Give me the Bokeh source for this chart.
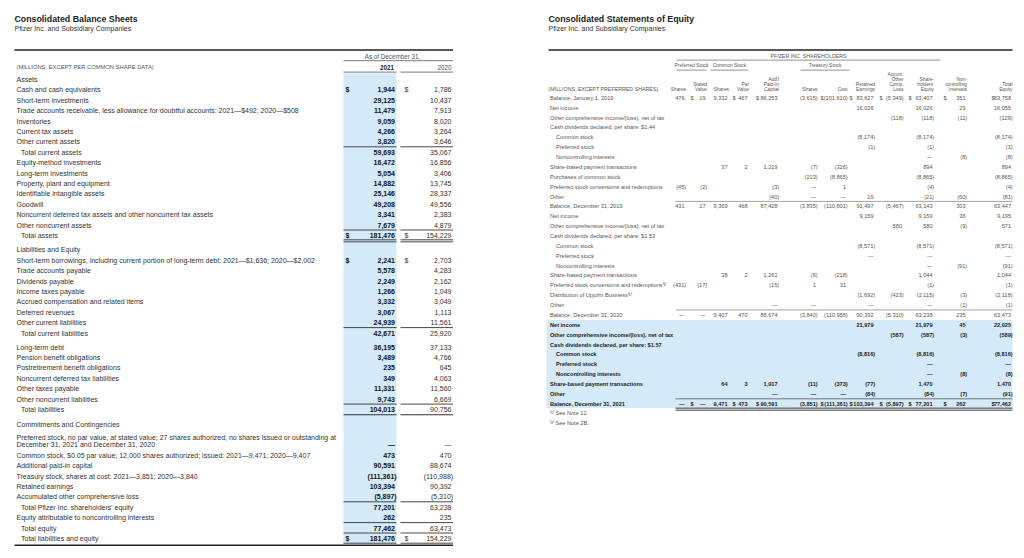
from bokeh.plotting import figure
from bokeh.models import Range1d
from bokeh.core.properties import value
from bokeh.embed import file_html
from bokeh.resources import INLINE

E, D = "", "—"

# ---------------- Consolidated Balance Sheets (data) ----------------
bs_title = "Consolidated Balance Sheets"
bs_subtitle = "Pfizer Inc. and Subsidiary Companies"
bs_unit = "(MILLIONS, EXCEPT PER COMMON SHARE DATA)"
bs_period = "As of December 31,"
bs_years = ["2021", "2020"]
bs_labels = [
    "Assets",
    "Cash and cash equivalents",
    "Short-term investments",
    "Trade accounts receivable, less allowance for doubtful accounts: 2021—$492; 2020—$508",
    "Inventories",
    "Current tax assets",
    "Other current assets",
    "Total current assets",
    "Equity-method investments",
    "Long-term investments",
    "Property, plant and equipment",
    "Identifiable intangible assets",
    "Goodwill",
    "Noncurrent deferred tax assets and other noncurrent tax assets",
    "Other noncurrent assets",
    "Total assets",
    "Liabilities and Equity",
    "Short-term borrowings, including current portion of long-term debt: 2021—$1,636; 2020—$2,002",
    "Trade accounts payable",
    "Dividends payable",
    "Income taxes payable",
    "Accrued compensation and related items",
    "Deferred revenues",
    "Other current liabilities",
    "Total current liabilities",
    "Long-term debt",
    "Pension benefit obligations",
    "Postretirement benefit obligations",
    "Noncurrent deferred tax liabilities",
    "Other taxes payable",
    "Other noncurrent liabilities",
    "Total liabilities",
    "Commitments and Contingencies",
    "Preferred stock, no par value, at stated value; 27 shares authorized; no shares issued or outstanding at\nDecember 31, 2021 and December 31, 2020",
    "Common stock, $0.05 par value; 12,000 shares authorized; issued: 2021—9,471; 2020—9,407",
    "Additional paid-in capital",
    "Treasury stock, shares at cost: 2021—3,851; 2020—3,840",
    "Retained earnings",
    "Accumulated other comprehensive loss",
    "Total Pfizer Inc. shareholders' equity",
    "Equity attributable to noncontrolling interests",
    "Total equity",
    "Total liabilities and equity",
]
bs_2021 = [E, "1,944", "29,125", "11,479", "9,059", "4,266", "3,820", "59,693", "16,472", "5,054",
           "14,882", "25,146", "49,208", "3,341", "7,679", "181,476", E, "2,241", "5,578", "2,249",
           "1,266", "3,332", "3,067", "24,939", "42,671", "36,195", "3,489", "235", "349", "11,331",
           "9,743", "104,013", E, D, "473", "90,591", "(111,361)", "103,394", "(5,897)", "77,201",
           "262", "77,462", "181,476"]
bs_2020 = [E, "1,786", "10,437", "7,913", "8,020", "3,264", "3,646", "35,067", "16,856", "3,406",
           "13,745", "28,337", "49,556", "2,383", "4,879", "154,229", E, "2,703", "4,283", "2,162",
           "1,049", "3,049", "1,113", "11,561", "25,920", "37,133", "4,766", "645", "4,063", "11,560",
           "6,669", "90,756", E, D, "470", "88,674", "(110,988)", "90,392", "(5,310)", "63,238",
           "235", "63,473", "154,229"]

# ---------------- Consolidated Statements of Equity (data) ----------------
eq_title = "Consolidated Statements of Equity"
eq_subtitle = "Pfizer Inc. and Subsidiary Companies"
eq_unit = "(MILLIONS, EXCEPT PREFERRED SHARES)"
eq_group = "PFIZER INC. SHAREHOLDERS"
eq_subgroups = ["Preferred Stock", "Common Stock", "Treasury Stock"]
eq_col_heads = ["Shares", "Stated\nValue", "Shares", "Par\nValue", "Add'l\nPaid-In\nCapital",
                "Shares", "Cost", "Retained\nEarnings", "Accum.\nOther\nComp.\nLoss",
                "Share-\nholders'\nEquity", "Non-\ncontrolling\nInterests", "Total\nEquity"]
eq_labels = [
    "Balance, January 1, 2019",
    "Net income",
    "Other comprehensive income/(loss), net of tax",
    "Cash dividends declared, per share: $1.44",
    "Common stock",
    "Preferred stock",
    "Noncontrolling interests",
    "Share-based payment transactions",
    "Purchases of common stock",
    "Preferred stock conversions and redemptions",
    "Other",
    "Balance, December 31, 2019",
    "Net income",
    "Other comprehensive income/(loss), net of tax",
    "Cash dividends declared, per share: $1.53",
    "Common stock",
    "Preferred stock",
    "Noncontrolling interests",
    "Share-based payment transactions",
    "Preferred stock conversions and redemptions⁽¹⁾",
    "Distribution of Upjohn Business⁽²⁾",
    "Other",
    "Balance, December 31, 2020",
    "Net income",
    "Other comprehensive income/(loss), net of tax",
    "Cash dividends declared, per share: $1.57",
    "Common stock",
    "Preferred stock",
    "Noncontrolling interests",
    "Share-based payment transactions",
    "Other",
    "Balance, December 31, 2021",
]
pref_shares = ["476", E, E, E, E, E, E, E, E, "(45)", E,
               "431", E, E, E, E, E, E, E, "(431)", E, E,
               D, E, E, E, E, E, E, E, E, D]
pref_value = ["19", E, E, E, E, E, E, E, E, "(2)", E,
              "17", E, E, E, E, E, E, E, "(17)", E, E,
              D, E, E, E, E, E, E, E, E, D]
com_shares = ["9,332", E, E, E, E, E, E, "37", E, E, E,
              "9,369", E, E, E, E, E, E, "38", E, E, E,
              "9,407", E, E, E, E, E, E, "64", E, "9,471"]
par_value = ["467", E, E, E, E, E, E, "2", E, E, E,
             "468", E, E, E, E, E, E, "2", E, E, E,
             "470", E, E, E, E, E, E, "3", E, "473"]
apic = ["86,253", E, E, E, E, E, E, "1,219", E, "(3)", "(40)",
        "87,428", E, E, E, E, E, E, "1,261", "(15)", E, D,
        "88,674", E, E, E, E, E, E, "1,917", D, "90,591"]
tr_shares = ["(3,615)", E, E, E, E, E, E, "(7)", "(213)", D, D,
             "(3,835)", E, E, E, E, E, E, "(6)", "1", E, D,
             "(3,840)", E, E, E, E, E, E, "(11)", D, "(3,851)"]
tr_cost = ["(101,610)", E, E, E, E, E, E, "(326)", "(8,865)", "1", D,
           "(110,801)", E, E, E, E, E, E, "(218)", "31", E, E,
           "(110,988)", E, E, E, E, E, E, "(373)", D, "(111,361)"]
retained = ["83,627", "16,026", E, E, "(8,174)", "(1)", E, E, E, E, "19",
            "91,497", "9,159", E, E, "(8,571)", D, E, E, E, "(1,692)", D,
            "90,392", "21,979", E, E, "(8,816)", E, E, "(77)", "(84)", "103,394"]
aoci = ["(5,349)", E, "(118)", E, E, E, E, E, E, E, E,
        "(5,467)", E, "580", E, E, E, E, E, E, "(423)", E,
        "(5,310)", E, "(587)", E, E, E, E, E, E, "(5,897)"]
pfe_equity = ["63,407", "16,026", "(118)", E, "(8,174)", "(1)", D, "894", "(8,865)", "(4)", "(21)",
              "63,143", "9,159", "580", E, "(8,571)", D, D, "1,044", "(1)", "(2,115)", D,
              "63,238", "21,979", "(587)", E, "(8,816)", D, D, "1,470", "(84)", "77,201"]
nci = ["351", "29", "(11)", E, E, E, "(8)", E, E, E, "(60)",
       "303", "36", "(9)", E, E, E, "(91)", E, E, "(3)", "(1)",
       "235", "45", "(3)", E, E, E, "(8)", E, "(7)", "262"]
total_equity = ["63,758", "16,055", "(129)", E, "(8,174)", "(1)", "(8)", "894", "(8,865)", "(4)", "(81)",
                "63,447", "9,195", "571", E, "(8,571)", D, "(91)", "1,044", "(1)", "(2,118)", "(1)",
                "63,473", "22,025", "(589)", E, "(8,816)", D, "(8)", "1,470", "(91)", "77,462"]
eq_notes = ["⁽¹⁾ See Note 12.", "⁽²⁾ See Note 2B."]

# ---------------- layout / style ----------------
FONT = value("Liberation Sans")
BLUE = "#d5eaf8"
INK = "#222222"
LAB = "#333333"
GREY = "#555555"

BS_GAP = {16: 4.0, 25: 3.7, 32: 4.6, 33: 2.3}
BS_INDENT = {7, 15, 24, 31, 39, 41, 42}
BS_DOLLAR = {1, 15, 17, 42}
BS_RULE_ABOVE = {7, 15, 24, 31, 39, 41, 42}

EQ_INDENT = {4, 5, 6, 15, 16, 17, 26, 27, 28}
EQ_BOLD_FROM = 23
EQ_DOLLAR_ROWS = {0, 31}
EQ_RULE_BELOW = {10, 21, 30}

W, H = 1016, 550
p = figure(width=W, height=H, x_range=Range1d(0, W), y_range=Range1d(H, 0),
           output_backend="svg", toolbar_location=None, x_axis_type=None, y_axis_type=None,
           min_border=0)
p.outline_line_color = None
p.background_fill_color = "white"
p.border_fill_color = "white"


def texts(xs, ys, ts, size, align="left", bold=False, color=LAB):
    xs, ys, ts = list(xs), list(ys), list(ts)
    if not ts:
        return
    p.text(x=xs, y=ys, text=ts, text_font=FONT, text_font_size=f"{size}px",
           text_font_style=("bold" if bold else "normal"), text_color=color,
           text_align=align, text_baseline="middle")


segs = {}


def hline(x0, x1, y, color=INK, width=1.0):
    segs.setdefault((color, width), []).append((x0, x1, y))


def num_x(r, v):
    return r + 1.6 if v.endswith(")") else r


# ======================= LEFT: balance sheet =======================
LX, LIND = 16, 20.5
C21, C20 = (343, 396), (400, 452.5)
R21, R20 = 394.5, 451
S21, S20 = 345, 404
ROW = 10.4

p.quad(left=[C21[0]], right=[C21[1]], top=[73], bottom=[543.3], fill_color=BLUE, line_color=None)

texts([14], [18.3], [bs_title], 8.8, bold=True, color=INK)
texts([14], [27.5], [bs_subtitle], 7, color=LAB)
hline(14, C20[1], 49.5, INK, 1.5)
texts([392], [56], [bs_period], 6.3, align="center", color=GREY)
hline(C21[0], C20[1], 60.2, "#555555", 0.8)
texts([LX], [66.5], [bs_unit], 5.8, color=GREY)
texts([R21 - 1], [66.5], [bs_years[0]], 6.3, align="right", bold=True, color=INK)
texts([R20], [66.5], [bs_years[1]], 6.3, align="right", color=GREY)
hline(C21[0], C21[1], 71.6, "#555555", 0.8)
hline(C20[0], C20[1], 71.6, "#555555", 0.8)

rows_y = []
lx, ly, lt = [], [], []
y = 78.9
for i, lab in enumerate(bs_labels):
    if i:
        y += ROW + BS_GAP.get(i, 0)
    parts = lab.split("\n")
    first = y
    y = first + 7.6 * (len(parts) - 1)
    rows_y.append(y)
    for j, part in enumerate(parts):
        lx.append(LIND if i in BS_INDENT else LX)
        ly.append(first + 7.6 * j)
        lt.append(part)
texts(lx, ly, lt, 7, color=LAB)

texts([num_x(R21, v) for v in bs_2021 if v], [rows_y[i] for i, v in enumerate(bs_2021) if v],
      [v for v in bs_2021 if v], 7, align="right", bold=True, color="#111111")
texts([num_x(R20, v) for v in bs_2020 if v], [rows_y[i] for i, v in enumerate(bs_2020) if v],
      [v for v in bs_2020 if v], 7, align="right", color=LAB)
dol = sorted(BS_DOLLAR)
texts([S21] * len(dol), [rows_y[i] for i in dol], ["$"] * len(dol), 7, bold=True, color="#111111")
texts([S20] * len(dol), [rows_y[i] for i in dol], ["$"] * len(dol), 7, color=LAB)

for i in BS_RULE_ABOVE:
    yy = (rows_y[i - 1] + rows_y[i]) / 2 - 0.2
    hline(C21[0], C21[1], yy, "#333333", 0.9)
    hline(C20[0], C20[1], yy, "#333333", 0.9)
# double rule below total assets
for dy in (4.4, 6.4):
    hline(C21[0], C21[1], rows_y[15] + dy, "#333333", 0.9)
    hline(C20[0], C20[1], rows_y[15] + dy, "#333333", 0.9)
# rule below total liabilities
hline(C21[0], C21[1], rows_y[31] + 5.2, "#333333", 1.1)
hline(C20[0], C20[1], rows_y[31] + 5.2, "#333333", 1.1)
# closing rules
last = rows_y[-1]
hline(C21[0], C21[1], last + 4.8, "#333333", 0.9)
hline(C20[0], C20[1], last + 4.8, "#333333", 0.9)
hline(14, C20[1], last + 6.9, INK, 1.6)

# ======================= RIGHT: statement of equity =======================
RX0, RX1 = 548, 1012
RLX, RIND = 549.5, 555.5
ER = [684, 705, 727, 747, 777, 815.5, 845.5, 873, 901.5, 932, 965, 1010.5]
EDOL = [None, 690, None, 732, 755.5, None, 820, 849, 879, 908, 943, 991]
eq_cols = [pref_shares, pref_value, com_shares, par_value, apic, tr_shares, tr_cost,
           retained, aoci, pfe_equity, nci, total_equity]
EY0, ESTEP = 97.3, 9.87
ey = [EY0 + ESTEP * k for k in range(len(eq_labels))]

band_top = (ey[EQ_BOLD_FROM - 1] + ey[EQ_BOLD_FROM]) / 2
p.quad(left=[RX0 - 2], right=[RX1], top=[band_top], bottom=[ey[-1] + 4.3],
       fill_color=BLUE, line_color=None)

texts([RX0], [18.3], [eq_title], 8.8, bold=True, color=INK)
texts([RX0], [27.5], [eq_subtitle], 7, color=LAB)
hline(RX0, RX1, 49.5, INK, 1.5)

# group headers
texts([808], [55], [eq_group], 5.3, align="center", color=GREY)
hline(676, 940, 59.6, "#777777", 0.8)
sub_spans = [(676, 706), (710, 748), (800, 849)]
texts([(a + b) / 2 for a, b in sub_spans], [65.2] * 3, eq_subgroups, 4.9, align="center", color=GREY)
for a, b in sub_spans:
    hline(a, b, 69.6, "#777777", 0.8)

# column heads
hx, hy, ht = [], [], []
for c, head in enumerate(eq_col_heads):
    parts = head.split("\n")
    n = len(parts)
    for j, part in enumerate(parts):
        hx.append(ER[c] + 1.5)
        hy.append(88.5 - (n - 1 - j) * 4.7)
        ht.append(part)
texts(hx, hy, ht, 4.8, align="right", color=GREY)
texts([RX0], [88.5], [eq_unit], 5.3, color=GREY)

# row labels
for bold, rng in ((False, range(0, EQ_BOLD_FROM)), (True, range(EQ_BOLD_FROM, len(eq_labels)))):
    texts([RIND if k in EQ_INDENT else RLX for k in rng], [ey[k] for k in rng],
          [eq_labels[k] for k in rng], 5.6, bold=bold, color=("#1a1a1a" if bold else GREY))

# values
for bold, rng in ((False, range(0, EQ_BOLD_FROM)), (True, range(EQ_BOLD_FROM, len(eq_labels)))):
    col = "#1a1a1a" if bold else GREY
    xs, ys, ts = [], [], []
    for c, vals in enumerate(eq_cols):
        for k in rng:
            v = vals[k]
            if v:
                xs.append(num_x(ER[c], v)); ys.append(ey[k]); ts.append(v)
            if k in EQ_DOLLAR_ROWS and EDOL[c] is not None:
                xs.append(EDOL[c]); ys.append(ey[k]); ts.append("$")
    texts([x for x, t in zip(xs, ts) if t != "$"], [y_ for y_, t in zip(ys, ts) if t != "$"],
          [t for t in ts if t != "$"], 5.6, align="right", bold=bold, color=col)
    texts([x for x, t in zip(xs, ts) if t == "$"], [y_ for y_, t in zip(ys, ts) if t == "$"],
          [t for t in ts if t == "$"], 5.6, align="left", bold=bold, color=col)

for k in EQ_RULE_BELOW:
    hline(675, RX1, ey[k] + 4.9, "#8a8a8a" if k < EQ_BOLD_FROM else "#555555", 0.8)
for dy in (4.4, 6.4):
    hline(675, RX1, ey[-1] + dy, INK, 0.9)

texts([RLX, RLX], [ey[-1] + 9.5, ey[-1] + 19], eq_notes, 5.6, color=GREY)

for (color, width), lst in segs.items():
    p.segment(x0=[a for a, b, c in lst], y0=[c for a, b, c in lst],
              x1=[b for a, b, c in lst], y1=[c for a, b, c in lst],
              line_color=color, line_width=width)

open("out.html", "w").write(file_html(p, INLINE))
